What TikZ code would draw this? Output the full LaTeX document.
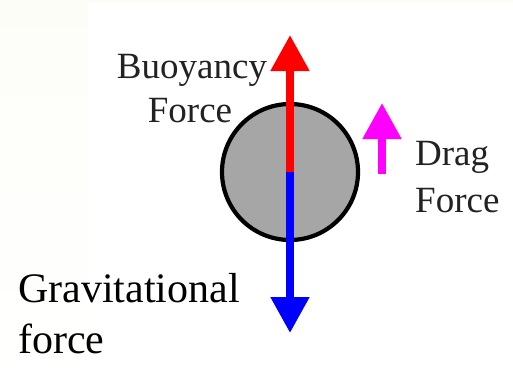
\documentclass[tikz,border=0pt]{standalone}
\usepackage{fontspec}
\setmainfont{Liberation Serif}
\usetikzlibrary{arrows.meta}
\definecolor{cream}{RGB}{253,253,248}
\definecolor{ballgray}{RGB}{166,166,166}
\definecolor{labelgray}{RGB}{34,34,34}
\definecolor{pureRed}{RGB}{255,0,0}
\definecolor{pureBlue}{RGB}{0,0,255}
\definecolor{pureMagenta}{RGB}{255,0,255}
\tikzset{
  force/.style={line width=8pt, -{Triangle[width=37pt,length=36pt]}},
  smalllabel/.style={inner sep=0pt, anchor=base, text=labelgray, font=\fontsize{37}{44}\selectfont},
  biglabel/.style={inner sep=0pt, anchor=base west, text=black, font=\fontsize{42}{50}\selectfont},
}
\begin{document}
\begin{tikzpicture}[x=1pt,y=-1pt]
\useasboundingbox (0,0) rectangle (513,388);
% background
\shade[top color=cream, bottom color=white] (0,0) rectangle (88,388);
\fill[cream] (0,0) rectangle (513,3);
\fill[white] (88,3) rectangle (513,388);
% ball
\node[circle, draw=black, line width=4.2pt, fill=ballgray, minimum size=136pt, inner sep=0pt] (ball) at (290,172) {};
% tips
\coordinate (btip) at (290,35);
\coordinate (gtip) at (290,333);
\coordinate (dbase) at (382,174);
\coordinate (dtip) at (382,103);
% forces
\draw[force, pureRed] (ball.center) -- (btip);
\draw[force, pureBlue] (ball.center) -- (gtip);
\draw[force, pureMagenta] (dbase) -- (dtip);
% labels
\node[smalllabel] (buoy1) at (192,78) {Buoyancy};
\node[smalllabel] (buoy2) at (190,122) {Force};
\node[smalllabel, anchor=base west] (drag1) at (415,165) {Drag};
\node[smalllabel, anchor=base west] (drag2) at (415,212) {Force};
\node[biglabel] (grav1) at (18,302) {Gravitational};
\node[biglabel] (grav2) at (18,353) {force};
\end{tikzpicture}
\end{document}
